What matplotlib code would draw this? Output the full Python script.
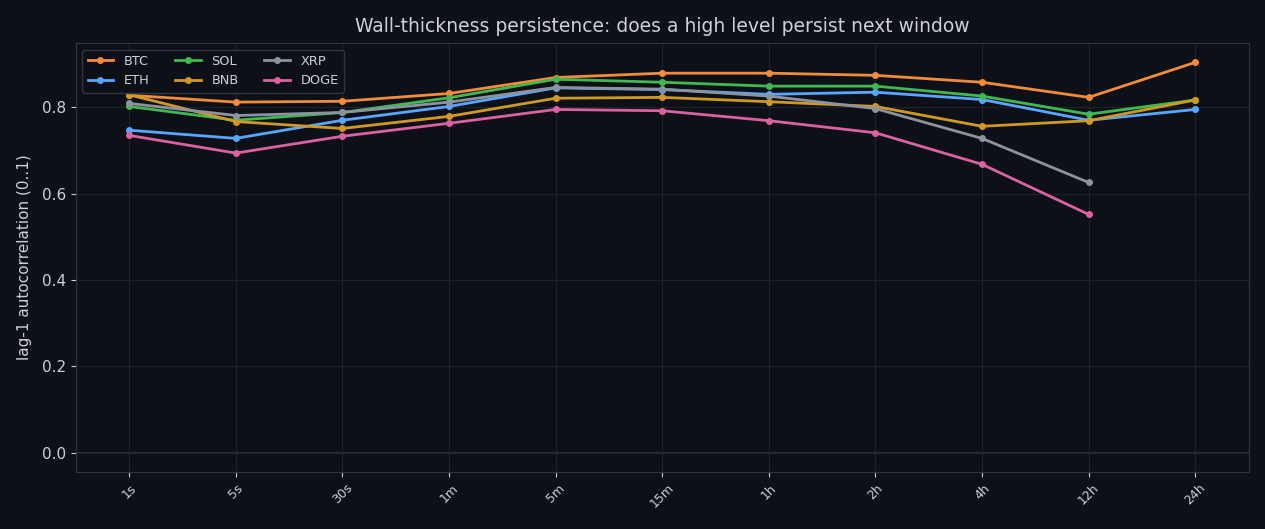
import numpy as np
import matplotlib
matplotlib.use("Agg")
import matplotlib.pyplot as plt

# data
windows = ['1s', '5s', '30s', '1m', '5m', '15m', '1h', '2h', '4h', '12h', '24h']
btc = [0.828, 0.812, 0.814, 0.832, 0.869, 0.879, 0.879, 0.874, 0.858, 0.823, 0.904]
eth = [0.747, 0.728, 0.770, 0.802, 0.845, 0.841, 0.830, 0.835, 0.818, 0.770, 0.795]
sol = [0.802, 0.770, 0.788, 0.822, 0.865, 0.858, 0.849, 0.849, 0.826, 0.784, 0.817]
bnb = [0.829, 0.767, 0.751, 0.779, 0.821, 0.823, 0.813, 0.802, 0.756, 0.769, 0.817]
xrp = [0.809, 0.781, 0.788, 0.812, 0.846, 0.842, 0.826, 0.797, 0.728, 0.626, np.nan]
doge = [0.735, 0.694, 0.733, 0.763, 0.795, 0.792, 0.769, 0.741, 0.668, 0.552, np.nan]

series = [('BTC', btc, '#f28c38'), ('ETH', eth, '#58a6ff'), ('SOL', sol, '#3fb950'),
          ('BNB', bnb, '#d29922'), ('XRP', xrp, '#8b949e'), ('DOGE', doge, '#db61a2')]

bg = '#0d1017'
fg = '#c9d1d9'
edge = '#30363d'

fig, ax = plt.subplots(figsize=(12.65, 5.29), dpi=100)
fig.patch.set_facecolor(bg)
ax.set_facecolor(bg)

x = np.arange(len(windows))
for name, vals, col in series:
    ax.plot(x, vals, marker='o', markersize=4, linewidth=2, color=col, label=name)

ax.axhline(0, color=edge, linewidth=1.2, zorder=0)
ax.set_xlim(-0.5, len(windows) - 0.5)
ax.set_ylim(-0.044, 0.948)
ax.set_xticks(x)
ax.set_xticklabels(windows, rotation=45, fontsize=9, color=fg)
ax.set_yticks([0.0, 0.2, 0.4, 0.6, 0.8])
ax.tick_params(axis='y', colors=fg, labelsize=11)
ax.tick_params(axis='x', colors=fg)
ax.grid(True, color='#1e232b', linewidth=0.8)
ax.set_axisbelow(True)
for s in ax.spines.values():
    s.set_color(edge)

ax.set_ylabel('lag-1 autocorrelation (0..1)', color=fg, fontsize=11, labelpad=7)
ax.set_title('Wall-thickness persistence: does a high level persist next window',
             color=fg, fontsize=13.5, pad=8)

leg = ax.legend(loc='upper left', ncol=3, fontsize=9.3, facecolor=bg, edgecolor=edge, framealpha=1)
for t in leg.get_texts():
    t.set_color(fg)

plt.subplots_adjust(left=0.06, right=0.987, top=0.918, bottom=0.108)
plt.savefig('out.png', facecolor=bg)
